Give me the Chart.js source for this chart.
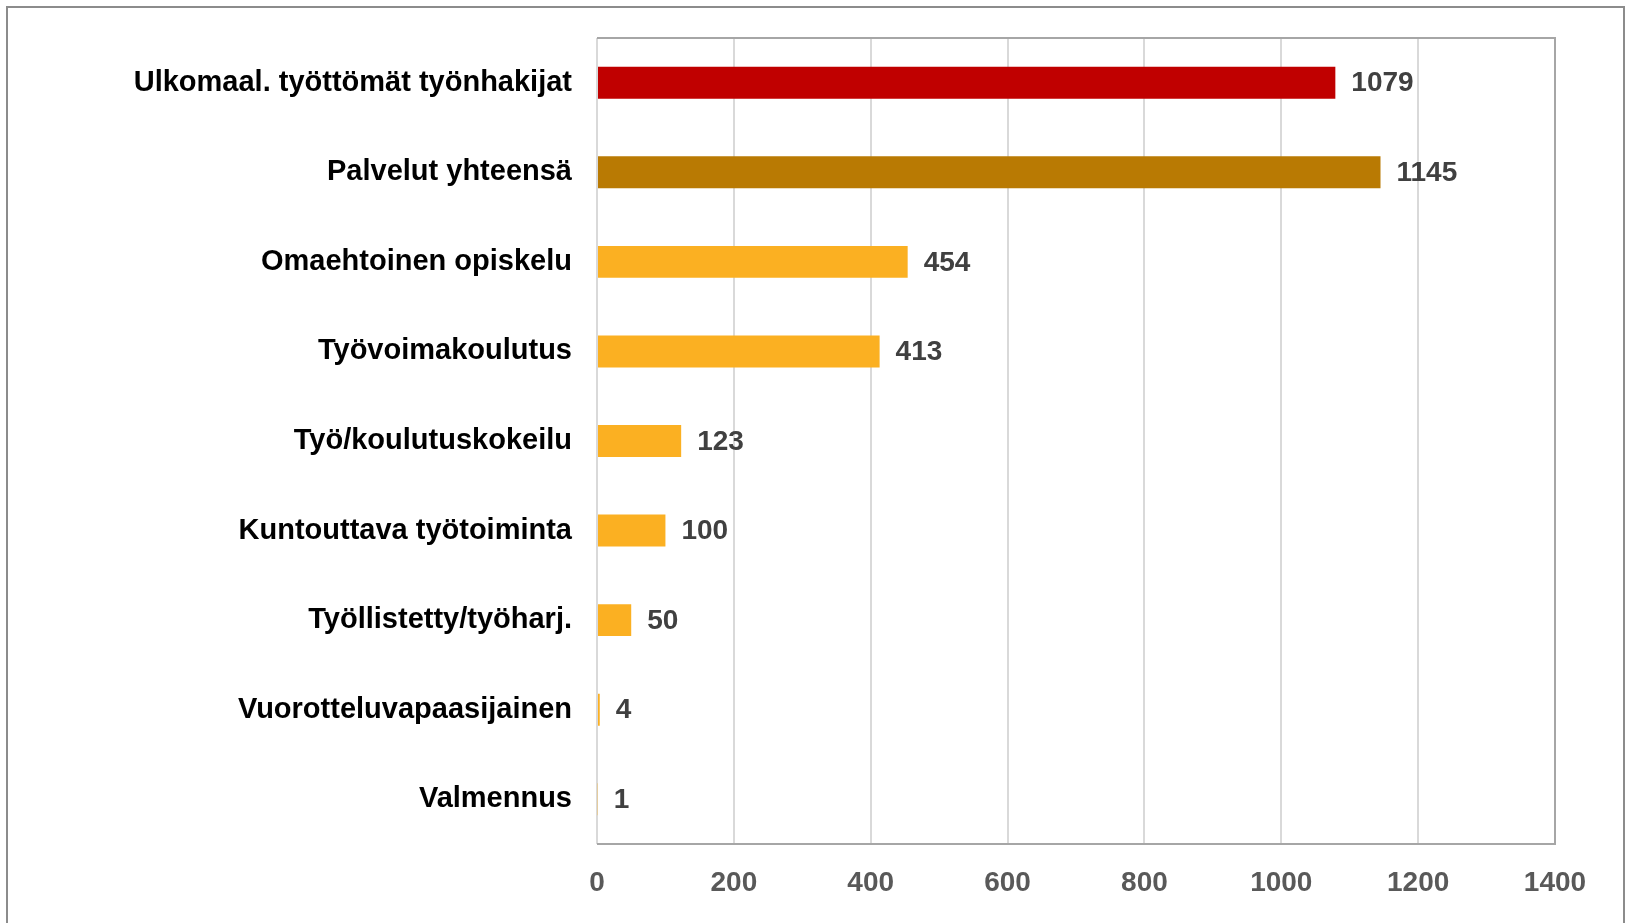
<!DOCTYPE html>
<html>
<head>
<meta charset="utf-8">
<script src="https://cdn.jsdelivr.net/npm/chart.js@4/dist/chart.umd.min.js"></script>
<style>
  html, body { margin: 0; padding: 0; background: #fff; }
  #wrap { position: relative; width: 1625px; height: 923px; overflow: hidden; }
  #frame { position: absolute; left: 6px; top: 6px; width: 1615px; height: 940px; border: 2px solid #8c8c8c; }
  canvas { position: absolute; left: 0; top: 0; }
</style>
</head>
<body>
<div id="wrap">
  <div id="frame"></div>
  <canvas id="chart" width="1625" height="923"></canvas>
</div>
<script>
const categories = [
  "Ulkomaal. työttömät työnhakijat",
  "Palvelut yhteensä",
  "Omaehtoinen opiskelu",
  "Työvoimakoulutus",
  "Työ/koulutuskokeilu",
  "Kuntouttava työtoiminta",
  "Työllistetty/työharj.",
  "Vuorotteluvapaasijainen",
  "Valmennus"
];
const values = [1079, 1145, 454, 413, 123, 100, 50, 4, 1];
const barColors = ["#C00000", "#B97A03", "#FBB022", "#FBB022", "#FBB022", "#FBB022", "#FBB022", "#FBB022", "#FBB022"];

const FONT = "'Liberation Sans', Arial, sans-serif";

// value labels to the right of each bar
const valueLabels = {
  id: "valueLabels",
  afterDatasetsDraw(chart) {
    const ctx = chart.ctx;
    const meta = chart.getDatasetMeta(0);
    ctx.save();
    ctx.font = "bold 28px " + FONT;
    ctx.fillStyle = "#404040";
    ctx.textAlign = "left";
    ctx.textBaseline = "middle";
    meta.data.forEach((bar, i) => {
      ctx.fillText(String(values[i]), bar.x + 16, bar.y + 1);
    });
    ctx.restore();
  }
};

// plot area frame (top, right, bottom)
const plotFrame = {
  id: "plotFrame",
  afterDraw(chart) {
    const { left, right, top, bottom } = chart.chartArea;
    const ctx = chart.ctx;
    ctx.save();
    ctx.strokeStyle = "#a6a6a6";
    ctx.lineWidth = 2;
    ctx.beginPath();
    ctx.moveTo(left, top);
    ctx.lineTo(right, top);
    ctx.lineTo(right, bottom);
    ctx.lineTo(left, bottom);
    ctx.stroke();
    ctx.restore();
  }
};

new Chart(document.getElementById("chart"), {
  type: "bar",
  data: {
    labels: categories,
    datasets: [{
      data: values,
      backgroundColor: barColors,
      borderWidth: 0,
      barPercentage: 1,
      categoryPercentage: 0.357
    }]
  },
  options: {
    indexAxis: "y",
    responsive: false,
    animation: false,
    layout: { padding: { top: 38, right: 70, left: 0, bottom: 0 } },
    plugins: {
      legend: { display: false },
      tooltip: { enabled: false }
    },
    scales: {
      y: {
        afterFit: (scale) => {
          scale.width = 597;
          scale.paddingTop = 0;
          scale.paddingBottom = 0;
        },
        grid: { display: false, drawTicks: false },
        border: { display: false },
        ticks: {
          padding: 25,
          color: "#000",
          font: { family: FONT, size: 29, weight: "bold" }
        }
      },
      x: {
        min: 0,
        max: 1400,
        afterFit: (scale) => { scale.height = 79; },
        grid: { color: "#d9d9d9", lineWidth: 2, drawTicks: false },
        border: { display: false },
        ticks: {
          stepSize: 200,
          padding: 22,
          color: "#595959",
          font: { family: FONT, size: 28, weight: "bold" },
          callback: (v) => String(v)
        }
      }
    }
  },
  plugins: [valueLabels, plotFrame]
});
</script>
</body>
</html>
